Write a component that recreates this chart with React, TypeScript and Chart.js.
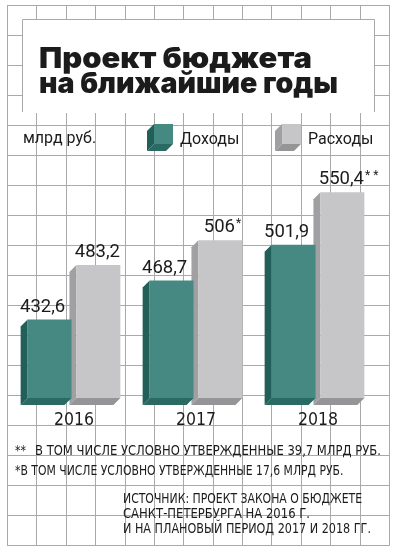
import React, { useEffect, useRef } from 'react';
import { Chart, registerables } from 'chart.js';

Chart.register(...registerables);

// ---------- data ----------
const years = ['2016', '2017', '2018'];
const incomeLabel = 'Доходы';
const expenseLabel = 'Расходы';
const income = [432.6, 468.7, 501.9];
const expenses = [483.2, 506, 550.4];
const incomeNotes = ['', '', ''];
const expenseNotes = ['', '*', '**'];
const unitLabel = 'млрд руб.';
const titleLines = ['Проект бюджета', 'на ближайшие годы'];
const footnoteMarks = ['**', '*'];
const footnoteTexts = [
  'В ТОМ ЧИСЛЕ УСЛОВНО УТВЕРЖДЕННЫЕ 39,7 МЛРД РУБ.',
  'В ТОМ ЧИСЛЕ УСЛОВНО УТВЕРЖДЕННЫЕ 17,6 МЛРД РУБ.',
];
const sourceLines = [
  'ИСТОЧНИК: ПРОЕКТ ЗАКОНА О БЮДЖЕТЕ',
  'САНКТ-ПЕТЕРБУРГА НА 2016 Г.',
  'И НА ПЛАНОВЫЙ ПЕРИОД 2017 И 2018 ГГ.',
];
const yMin = 360;
const yMax = 560;

// ---------- style ----------
const W = 397;
const H = 553;
const GRID = '#a9a9a9';
const INK = '#1b1b1b';
const DEPTH = 7;
const NARROW = '"Liberation Sans Narrow", "DejaVu Sans Condensed", Roboto, sans-serif';
const TITLE_WIDTHS = [273, 299];
const FOOTNOTE_WIDTHS = [346, 323];
const SOURCE_WIDTHS = [239, 187, 248];
const NOTE_SQUEEZE = 0.9;

const fmt = (v: number) => (Number.isInteger(v) ? String(v) : v.toFixed(1).replace('.', ','));

function drawCube(ctx: CanvasRenderingContext2D, l: number, t: number, r: number, b: number, front: string, side: string, bottom: string) {
  ctx.fillStyle = side;
  ctx.beginPath();
  ctx.moveTo(l, t);
  ctx.lineTo(l - DEPTH, t + DEPTH);
  ctx.lineTo(l - DEPTH, b + DEPTH);
  ctx.lineTo(l, b);
  ctx.closePath();
  ctx.fill();
  ctx.fillStyle = bottom;
  ctx.beginPath();
  ctx.moveTo(l, b);
  ctx.lineTo(l - DEPTH, b + DEPTH);
  ctx.lineTo(r - DEPTH, b + DEPTH);
  ctx.lineTo(r, b);
  ctx.closePath();
  ctx.fill();
  if (front) {
    ctx.fillStyle = front;
    ctx.fillRect(l, t, r - l, b - t);
  }
}

function fittedText(ctx: CanvasRenderingContext2D, text: string, x: number, y: number, width?: number) {
  const natural = ctx.measureText(text).width;
  const s = width ? width / natural : NOTE_SQUEEZE;
  ctx.save();
  ctx.translate(x, y);
  ctx.scale(s, 1);
  ctx.fillText(text, 0, 0);
  ctx.restore();
  return natural * s;
}

const backdropPlugin = {
  id: 'backdrop',
  beforeDraw(chart: any) {
    const ctx: CanvasRenderingContext2D = chart.ctx;
    ctx.save();
    ctx.fillStyle = '#ffffff';
    ctx.fillRect(0, 0, W, H);
    // grid
    ctx.strokeStyle = GRID;
    ctx.lineWidth = 1;
    const x0 = 7, x1 = 389, y0 = 5, y1 = 545;
    ctx.beginPath();
    for (let i = 0; i <= 13; i++) {
      const x = Math.round(x0 + (i * (x1 - x0)) / 13) + 0.5;
      ctx.moveTo(x, y0);
      ctx.lineTo(x, y1 + 0.5);
    }
    for (let j = 0; j <= 18; j++) {
      const y = Math.round(y0 + (j * (y1 - y0)) / 18) + 0.5;
      ctx.moveTo(x0, y);
      ctx.lineTo(x1 + 0.5, y);
    }
    ctx.stroke();
    // title box
    ctx.fillStyle = '#ffffff';
    ctx.fillRect(22, 19, 353, 94);
    ctx.beginPath();
    ctx.moveTo(22.5, 112);
    ctx.lineTo(22.5, 19.5);
    ctx.lineTo(374.5, 19.5);
    ctx.lineTo(374.5, 112);
    ctx.stroke();
    // title
    ctx.fillStyle = INK;
    ctx.textBaseline = 'alphabetic';
    ctx.textAlign = 'left';
    ctx.font = '900 29px Inter, Roboto, sans-serif';
    const baselines = [68, 93];
    titleLines.forEach((line, i) => {
      fittedText(ctx, line, 39, baselines[i], TITLE_WIDTHS[i]);
    });
    // legend
    ctx.font = '16px Roboto, sans-serif';
    ctx.fillStyle = INK;
    ctx.fillText(unitLabel, 23, 143);
    const legendX = [154, 282];
    chart.data.datasets.forEach((ds: any, i: number) => {
      const lx = legendX[i];
      drawCube(ctx, lx, 124, lx + 19, 144, ds.backgroundColor, ds.sideColor, ds.bottomColor);
      ctx.fillStyle = INK;
      ctx.font = '16px Roboto, sans-serif';
      ctx.fillText(ds.label, lx + 26, 144);
    });
    // footnotes
    ctx.font = `13.5px ${NARROW}`;
    ctx.fillStyle = INK;
    const fy = [455, 475];
    footnoteMarks.forEach((m, i) => {
      const mw = fittedText(ctx, m, 15, fy[i]);
      fittedText(ctx, footnoteTexts[i], i === 0 ? 35 : 15 + mw, fy[i], FOOTNOTE_WIDTHS[i]);
    });
    sourceLines.forEach((s, i) => {
      fittedText(ctx, s, 123, 503 + i * 15, SOURCE_WIDTHS[i]);
    });
    ctx.restore();
  },
};

const extrusionPlugin = {
  id: 'extrusion',
  beforeDatasetDraw(chart: any, args: any) {
    const ds = chart.data.datasets[args.index];
    const ctx: CanvasRenderingContext2D = chart.ctx;
    ctx.save();
    args.meta.data.forEach((bar: any) => {
      const { x, y, base, width } = bar.getProps(['x', 'y', 'base', 'width'], true);
      drawCube(ctx, x - width / 2, y, x + width / 2, base, '', ds.sideColor, ds.bottomColor);
    });
    ctx.restore();
  },
  afterDatasetsDraw(chart: any) {
    const ctx: CanvasRenderingContext2D = chart.ctx;
    ctx.save();
    ctx.fillStyle = INK;
    ctx.textBaseline = 'alphabetic';
    chart.data.datasets.forEach((ds: any, di: number) => {
      const meta = chart.getDatasetMeta(di);
      meta.data.forEach((bar: any, i: number) => {
        const { x, y } = bar.getProps(['x', 'y'], true);
        const text = fmt(ds.data[i]);
        ctx.font = '18.5px Roboto, sans-serif';
        ctx.textAlign = 'center';
        const cx = x + ds.labelShift;
        const by = y - 8;
        ctx.fillText(text, cx, by);
        const note = ds.notes[i];
        if (note) {
          const tw = ctx.measureText(text).width;
          ctx.font = '12px Roboto, sans-serif';
          ctx.textAlign = 'left';
          ctx.fillText(note.split('').join(' '), cx + tw / 2 + 1, by - 5);
        }
      });
    });
    ctx.restore();
  },
};

export default function App() {
  const ref = useRef<HTMLCanvasElement>(null);
  useEffect(() => {
    const chart = new Chart(ref.current as HTMLCanvasElement, {
      type: 'bar',
      data: {
        labels: years,
        datasets: [
          {
            label: incomeLabel,
            data: income,
            base: yMin,
            backgroundColor: '#468982',
            sideColor: '#215f58',
            bottomColor: '#2a6a62',
            notes: incomeNotes,
            labelShift: -7,
            borderWidth: 0,
            clip: false,
            categoryPercentage: 0.8,
            barPercentage: 0.9,
          } as any,
          {
            label: expenseLabel,
            data: expenses,
            base: yMin,
            backgroundColor: '#c6c6c8',
            sideColor: '#a0a0a2',
            bottomColor: '#959597',
            notes: expenseNotes,
            labelShift: -1,
            borderWidth: 0,
            clip: false,
            categoryPercentage: 0.8,
            barPercentage: 0.9,
          } as any,
        ],
      },
      options: {
        responsive: false,
        animation: false,
        devicePixelRatio: 1,
        layout: { padding: { left: 13, right: 18, top: 182, bottom: 115 } },
        plugins: {
          legend: { display: false },
          tooltip: { enabled: false },
          title: { display: false },
        },
        scales: {
          x: {
            grid: { display: false, drawTicks: false },
            border: { display: false },
            ticks: {
              padding: 12,
              color: INK,
              font: { family: NARROW, size: 17.5 },
            },
            afterFit: (s: any) => {
              s.height = 40;
            },
          },
          y: { display: false, min: yMin, max: yMax },
        },
      },
      plugins: [backdropPlugin, extrusionPlugin],
    } as any);
    return () => chart.destroy();
  }, []);
  return (
    <div style={{ position: 'absolute', left: 0, top: 0, width: W, height: H }}>
      <canvas ref={ref} width={W} height={H} style={{ display: 'block' }} />
    </div>
  );
}
